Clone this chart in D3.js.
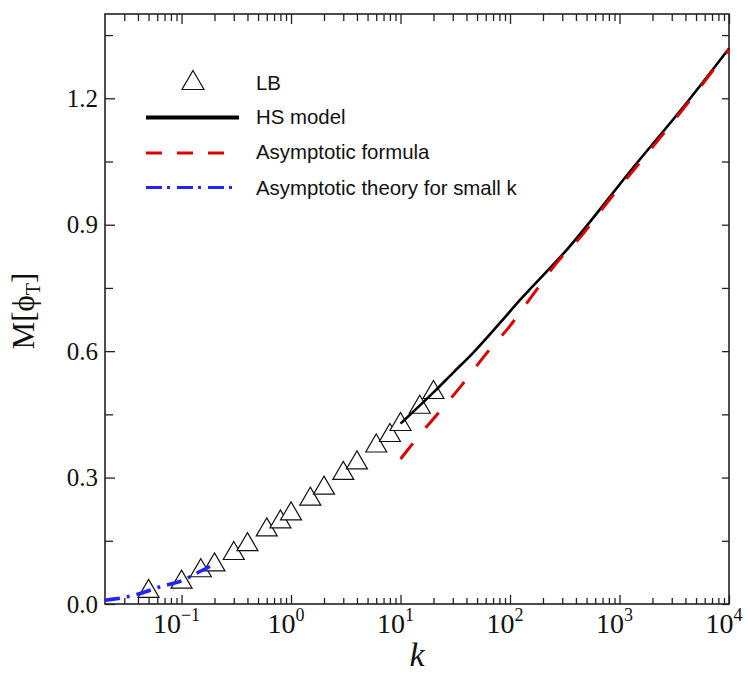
<!DOCTYPE html>
<html>
<head>
<meta charset="utf-8">
<script src="https://cdn.jsdelivr.net/npm/d3@7"></script>
<style>
  html, body { margin: 0; padding: 0; background: #fff; }
  svg { display: block; }
</style>
</head>
<body>
<svg id="chart" width="748" height="677"></svg>
<script>
// ---------------- data ----------------
const lbK   = [0.05, 0.1, 0.15, 0.2, 0.3, 0.4, 0.6, 0.8, 1, 1.5, 2, 3, 4, 6, 8, 10, 15, 20];
const lbM   = [0.037, 0.059, 0.086, 0.100, 0.127, 0.148, 0.183, 0.202, 0.221, 0.256, 0.282, 0.317, 0.342, 0.382, 0.407, 0.433, 0.474, 0.509];

const hsK   = [10, 20, 30, 46, 81, 124, 331, 1346, 4130, 10000];
const hsM   = [0.428, 0.502, 0.548, 0.596, 0.667, 0.722, 0.841, 1.037, 1.190, 1.318];

const asK   = [10, 16.8, 21.5, 36.4, 61.5, 100, 164, 268, 437, 769, 1349, 4130, 10000];
const asM   = [0.344, 0.417, 0.449, 0.520, 0.596, 0.660, 0.736, 0.810, 0.870, 0.952, 1.030, 1.186, 1.316];

const smK   = [0.02, 0.027, 0.042, 0.064, 0.1, 0.147, 0.2];
const smM   = [0.009, 0.0135, 0.025, 0.041, 0.055, 0.077, 0.094];

const xMajorExps = [-1, 0, 1, 2, 3, 4];
const yMajor = [0, 0.3, 0.6, 0.9, 1.2];
const yMinor = [0.15, 0.45, 0.75, 1.05, 1.35];
const legendLabels = ["LB", "HS model", "Asymptotic formula", "Asymptotic theory for small k"];

// ---------------- layout ----------------
const svg = d3.select("#chart");
const L = 105, R = 729, T = 14, B = 604;
const x = d3.scaleLog().domain([0.02, 1e4]).range([L, R]);
const y = d3.scaleLinear().domain([0, 1.4]).range([B, T]);

const xMajor = xMajorExps.map(e => Math.pow(10, e));
const xMinor = [];
for (let e = -2; e <= 3; e++) for (let m = 2; m <= 9; m++) {
  const v = m * Math.pow(10, e);
  if (v > 0.02 && v < 1e4) xMinor.push(v);
}

const axisColor = "#222";
function styleAxis(g) {
  g.select(".domain").remove();
  g.selectAll("line").attr("stroke", axisColor).attr("stroke-width", 1.3);
  g.selectAll("text").remove();
}

// bottom ticks (inward)
svg.append("g").attr("transform", `translate(0,${B})`)
  .call(d3.axisBottom(x).tickValues(xMajor).tickSize(-9).tickFormat("")).call(styleAxis);
svg.append("g").attr("transform", `translate(0,${B})`)
  .call(d3.axisBottom(x).tickValues(xMinor).tickSize(-6).tickFormat("")).call(styleAxis);
// top ticks (inward)
svg.append("g").attr("transform", `translate(0,${T})`)
  .call(d3.axisTop(x).tickValues(xMajor).tickSize(-10).tickFormat("")).call(styleAxis);
svg.append("g").attr("transform", `translate(0,${T})`)
  .call(d3.axisTop(x).tickValues(xMinor).tickSize(-7).tickFormat("")).call(styleAxis);
// left ticks
svg.append("g").attr("transform", `translate(${L},0)`)
  .call(d3.axisLeft(y).tickValues(yMajor).tickSize(-10).tickFormat("")).call(styleAxis);
svg.append("g").attr("transform", `translate(${L},0)`)
  .call(d3.axisLeft(y).tickValues(yMinor).tickSize(-8).tickFormat("")).call(styleAxis);
// right ticks
svg.append("g").attr("transform", `translate(${R},0)`)
  .call(d3.axisRight(y).tickValues(yMajor.concat(yMinor)).tickSize(-7).tickFormat("")).call(styleAxis);

// frame
svg.append("rect").attr("x", L).attr("y", T).attr("width", R - L).attr("height", B - T)
  .attr("fill", "none").attr("stroke", axisColor).attr("stroke-width", 1.6);

// y tick labels
svg.append("g").selectAll("text").data(yMajor).join("text")
  .attr("x", 98).attr("y", d => y(d)).attr("dy", "0.34em")
  .attr("text-anchor", "end")
  .attr("font-family", "'Liberation Serif', 'Times New Roman', serif")
  .attr("font-size", 25).attr("fill", "#111")
  .text(d => d.toFixed(1));

// x tick labels 10^n
const xl = svg.append("g").selectAll("text").data(xMajorExps).join("text")
  .attr("x", d => x(Math.pow(10, d)) - 5).attr("y", 633)
  .attr("text-anchor", "middle")
  .attr("font-family", "'Liberation Serif', 'Times New Roman', serif")
  .attr("font-size", 28).attr("fill", "#111");
xl.append("tspan").text("10");
xl.append("tspan").attr("font-size", 18).attr("dy", -12).text(d => d === -1 ? "\u22121" : String(d));

// axis titles
svg.append("text").attr("x", 417).attr("y", 666).attr("text-anchor", "middle")
  .attr("font-family", "'Liberation Serif', 'Times New Roman', serif")
  .attr("font-style", "italic").attr("font-size", 34).attr("fill", "#111").text("k");

const yt = svg.append("text").attr("transform", "translate(34,311) rotate(-90)")
  .attr("text-anchor", "middle")
  .attr("font-family", "'Liberation Serif', 'Times New Roman', serif")
  .attr("font-size", 31).attr("fill", "#111");
yt.append("tspan").text("M[\u03D5");
yt.append("tspan").attr("font-size", 20).attr("dy", 6).text("T");
yt.append("tspan").attr("dy", -6).text("]");

// ---------------- marks ----------------
const tri = (cx, cy, w, h) => `M${cx},${cy - h / 2}L${cx + w / 2},${cy + h / 2}L${cx - w / 2},${cy + h / 2}Z`;

const lbData = lbK.map((k, i) => ({ k, m: lbM[i] }));
svg.append("g").selectAll("path").data(lbData).join("path")
  .attr("d", d => tri(x(d.k), y(d.m), 21, 18))
  .attr("fill", "#fff").attr("stroke", "#111").attr("stroke-width", 1.2);

const line = d3.line().x(d => x(d[0])).y(d => y(d[1])).curve(d3.curveMonotoneX);

svg.append("path").datum(hsK.map((k, i) => [k, hsM[i]]))
  .attr("d", line).attr("fill", "none").attr("stroke", "#000").attr("stroke-width", 2.6);

svg.append("path").datum(asK.map((k, i) => [k, asM[i]]))
  .attr("d", line).attr("fill", "none").attr("stroke", "#dd0000").attr("stroke-width", 3)
  .attr("stroke-dasharray", "20,20");

svg.append("path").datum(smK.map((k, i) => [k, smM[i]]))
  .attr("d", line).attr("fill", "none").attr("stroke", "#2222ff").attr("stroke-width", 3.5)
  .attr("stroke-dasharray", "15,7,3,7");

// ---------------- legend ----------------
const lg = svg.append("g");
const lx0 = 146, lx1 = 239, ltx = 256;
lg.append("path").attr("d", tri(193, 80, 22, 19))
  .attr("fill", "#fff").attr("stroke", "#111").attr("stroke-width", 1.2);
lg.append("line").attr("x1", lx0).attr("x2", lx1).attr("y1", 117.5).attr("y2", 117.5)
  .attr("stroke", "#000").attr("stroke-width", 4);
lg.append("line").attr("x1", lx0).attr("x2", 224).attr("y1", 153).attr("y2", 153)
  .attr("stroke", "#dd0000").attr("stroke-width", 3.2).attr("stroke-dasharray", "16,15");
lg.append("line").attr("x1", lx0).attr("x2", 234).attr("y1", 187.5).attr("y2", 187.5)
  .attr("stroke", "#2222ff").attr("stroke-width", 3.2).attr("stroke-dasharray", "16,5,3,7");
lg.selectAll("text.lab").data(legendLabels).join("text").attr("class", "lab")
  .attr("x", ltx).attr("y", (d, i) => [89.5, 124, 159, 195][i])
  .attr("font-family", "'Liberation Sans', Arial, sans-serif")
  .attr("font-size", 20.4).attr("fill", "#111")
  .text(d => d);
</script>
</body>
</html>
